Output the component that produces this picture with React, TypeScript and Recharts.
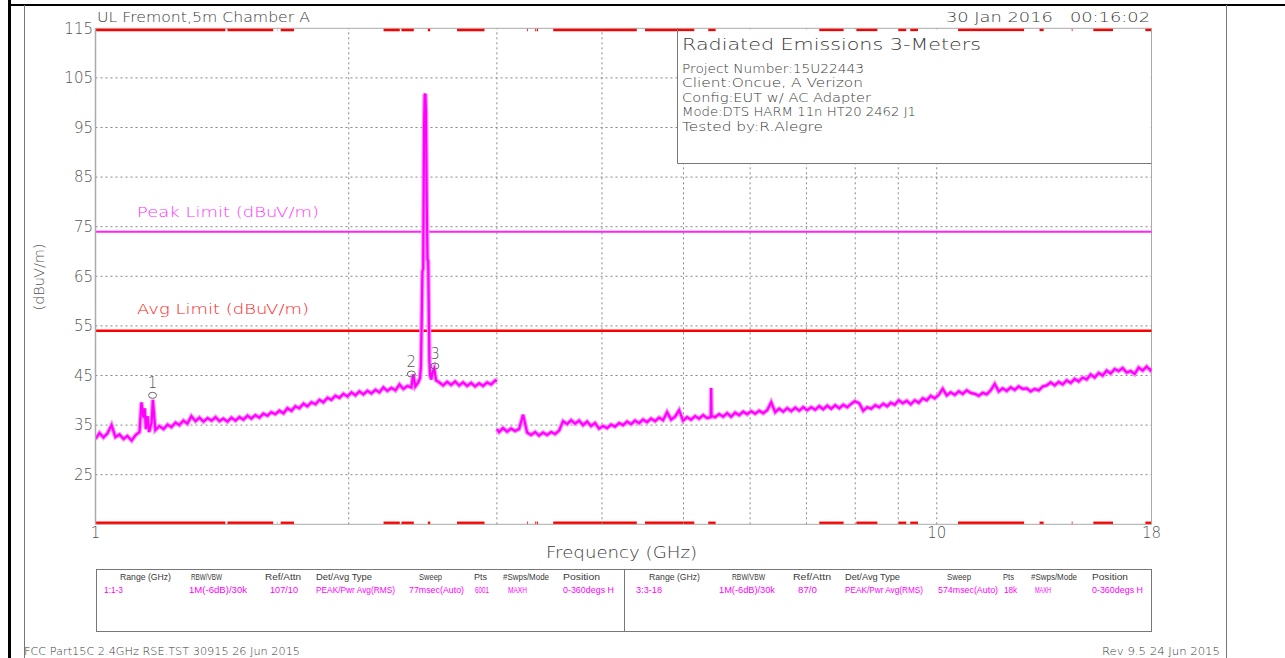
import React from 'react';
import {
  ComposedChart,
  Line,
  XAxis,
  YAxis,
  ReferenceLine,
  ReferenceArea,
  Scatter,
} from 'recharts';

// ---------- data ----------
const range1Freq = [
  1.000, 1.011, 1.022, 1.033, 1.045, 1.056, 1.068, 1.080, 1.091, 1.104, 1.116, 1.128,
  1.134, 1.140, 1.144, 1.148, 1.153, 1.158, 1.166, 1.170, 1.178,
  1.191, 1.205, 1.218, 1.231, 1.245, 1.258, 1.272, 1.286, 1.300, 1.315,
  1.329, 1.344, 1.359, 1.374, 1.389, 1.404, 1.419, 1.435, 1.451, 1.467,
  1.483, 1.499, 1.516, 1.532, 1.549, 1.566, 1.583, 1.601, 1.618, 1.636,
  1.654, 1.673, 1.691, 1.710, 1.728, 1.747, 1.767, 1.786, 1.806, 1.826,
  1.846, 1.866, 1.887, 1.907, 1.928, 1.950, 1.971, 1.993, 2.015, 2.037,
  2.059, 2.082, 2.105, 2.128, 2.152, 2.175, 2.199, 2.223, 2.248, 2.273,
  2.298, 2.323, 2.349, 2.374,
  2.386, 2.400,
  2.419, 2.431, 2.437, 2.443, 2.447, 2.452, 2.458, 2.462, 2.467, 2.471, 2.476, 2.481, 2.486, 2.490, 2.494, 2.499,
  2.507, 2.515, 2.527, 2.540, 2.562,
  2.590, 2.618, 2.647, 2.676, 2.706, 2.735, 2.765, 2.796, 2.826, 2.858, 2.889, 2.921, 2.953, 2.986,
  3.000,
];
const range1Level = [
  32.2, 33.4, 32.5, 33.3, 35.0, 32.6, 33.1, 32.2, 32.8, 31.9, 33.0, 33.6,
  39.6, 36.5, 38.4, 34.2, 36.8, 33.6, 35.5, 40.1, 34.0,
  34.8, 34.2, 35.1, 34.6, 35.5, 35.0, 35.9, 35.3, 36.8, 35.8,
  36.5, 35.7, 36.4, 35.9, 36.6, 35.8, 36.3, 35.7, 36.5, 35.9,
  36.6, 36.1, 36.9, 36.3, 37.0, 36.5, 37.3, 36.9, 37.6, 37.2,
  37.9, 37.4, 38.4, 37.9, 38.8, 38.4, 39.3, 38.8, 39.6, 39.2,
  40.1, 39.6, 40.5, 40.1, 40.9, 40.5, 41.3, 40.8, 41.6, 41.0,
  41.8, 41.2, 41.9, 41.4, 42.1, 41.6, 42.6, 41.9, 42.5, 42.0,
  43.2, 42.3, 42.9, 42.6,
  45.2, 42.8,
  43.6, 44.5, 47.0, 58.0, 66.0, 66.5, 95.0, 101.5, 101.8, 98.0, 80.0, 68.5, 68.0, 58.0, 48.0, 45.0,
  44.2, 45.6, 46.4, 44.0, 43.6,
  43.0, 43.7, 43.1, 43.8, 43.0, 43.6, 42.9, 43.5, 42.8, 43.4, 42.9, 43.6, 43.2, 44.0,
  43.8,
];

const range2Freq = [
  3.000, 3.018, 3.051, 3.085, 3.119, 3.153, 3.188, 3.223, 3.259, 3.294,
  3.331, 3.367, 3.404, 3.442, 3.480, 3.518, 3.557, 3.596, 3.636, 3.676,
  3.716, 3.757, 3.798, 3.840, 3.882, 3.925, 3.968, 4.012, 4.056, 4.100,
  4.146, 4.191, 4.238, 4.284, 4.331, 4.379, 4.427, 4.476, 4.525, 4.575,
  4.626, 4.677, 4.728, 4.780, 4.833, 4.886, 4.940, 4.994, 5.049, 5.105,
  5.161, 5.218, 5.276, 5.334, 5.388, 5.393, 5.398, 5.452, 5.512, 5.573, 5.634, 5.696,
  5.759, 5.823, 5.887, 5.952, 6.017, 6.084, 6.151, 6.218, 6.287, 6.356,
  6.426, 6.497, 6.569, 6.641, 6.714, 6.788, 6.863, 6.939, 7.015, 7.092,
  7.170, 7.249, 7.329, 7.410, 7.491, 7.574, 7.657, 7.742, 7.827, 7.913,
  7.991, 8.088, 8.177, 8.267, 8.358, 8.450, 8.543, 8.637, 8.732, 8.818,
  8.915, 9.013, 9.112, 9.212, 9.313, 9.416, 9.519, 9.624, 9.730, 9.837,
  9.945, 10.055, 10.165, 10.277, 10.390, 10.505, 10.620, 10.737, 10.855, 10.975,
  11.096, 11.218, 11.341, 11.466, 11.592, 11.720, 11.849, 11.979, 12.111, 12.244,
  12.379, 12.515, 12.653, 12.792, 12.933, 13.075, 13.219, 13.364, 13.511, 13.660,
  13.810, 13.962, 14.116, 14.271, 14.428, 14.587, 14.747, 14.910, 15.074, 15.240,
  15.407, 15.577, 15.748, 15.922, 16.097, 16.274, 16.453, 16.634, 16.817, 17.002,
  17.189, 17.378, 17.569, 17.763, 17.958, 18.000,
];
const range2Level = [
  34.2, 33.6, 34.4, 33.7, 34.3, 33.8, 34.2, 37.1, 33.5, 33.0,
  33.6, 32.9, 33.5, 33.0, 33.6, 33.2, 33.9, 35.8, 35.2, 36.0,
  35.3, 35.9, 35.0, 35.7, 34.8, 35.4, 34.3, 34.8, 34.4, 35.1,
  34.7, 35.4, 35.0, 35.7, 35.2, 35.9, 35.4, 36.1, 35.6, 36.3,
  35.8, 36.5, 36.0, 37.6, 36.1, 36.7, 38.0, 35.9, 36.6, 36.1,
  36.8, 36.3, 37.0, 36.4, 36.6, 42.5, 36.9, 36.6, 37.2, 36.7, 37.4, 36.7,
  37.5, 37.0, 37.7, 37.2, 37.8, 37.3, 37.9, 37.4, 38.0, 39.6,
  37.6, 38.3, 37.7, 38.4, 37.8, 38.5, 37.9, 38.6, 38.0, 38.6,
  38.1, 38.8, 38.2, 38.9, 38.3, 39.0, 38.4, 39.1, 38.6, 39.3,
  39.8, 39.4, 37.9, 38.6, 38.3, 39.0, 38.6, 39.3, 38.8, 39.5,
  39.1, 40.0, 39.4, 39.9, 39.2, 40.0, 39.5, 40.4, 40.0, 40.9,
  40.4, 41.1, 42.3, 41.0, 41.6, 41.1, 41.8, 41.3, 42.0, 41.5,
  41.3, 40.9, 41.5, 41.2, 42.0, 43.3, 41.8, 42.4, 41.9, 42.6,
  42.1, 42.8, 42.3, 42.4, 41.8, 42.3, 42.0, 42.8, 43.0, 43.6,
  43.0, 43.7, 43.2, 44.0, 43.5, 44.3, 43.8, 44.6, 44.2, 45.2,
  44.6, 45.5, 45.0, 46.0, 45.4, 46.3, 45.9, 46.5, 45.6, 45.9,
  45.3, 46.6, 46.0, 46.8, 46.0, 46.5,
];

const markerFreq = [1.169, 2.374, 2.532];
const markerLevel = [41.0, 45.3, 46.9];
const markerNames = ['1', '2', '3'];

const bandStart = [1.0, 1.435, 1.6455, 1.66, 2.2, 2.31, 2.4835, 2.69, 3.26, 3.332, 3.3458, 3.5, 4.5, 5.35, 7.25, 8.025, 9.0, 9.3, 10.6, 13.25, 14.47, 15.35, 17.7];
const bandEnd = [1.427, 1.6265, 1.6465, 1.722, 2.3, 2.39, 2.5, 2.9, 3.267, 3.339, 3.358, 4.4, 5.15, 5.46, 7.75, 8.5, 9.2, 9.5, 12.7, 13.4, 14.5, 16.2, 18.0];

const peakLimit = 74;
const avgLimit = 54;
const yTicks = [25, 35, 45, 55, 65, 75, 85, 95, 105, 115];
const yGrid = [25, 35, 45, 55, 65, 75, 85, 95, 105];
const xTicks = [1, 10, 18];
const xGrid = [2, 3, 4, 5, 6, 7, 8, 9, 10];

const headerLeft = 'UL Fremont,5m Chamber A';
const headerRight = '30 Jan 2016   00:16:02';
const infoTitle = 'Radiated Emissions 3-Meters';
const infoLines = [
  'Project Number:15U22443',
  'Client:Oncue, A Verizon',
  'Config:EUT w/ AC Adapter',
  'Mode:DTS HARM 11n HT20 2462 J1',
  'Tested by:R.Alegre',
];
const infoWidths = [182, 181, 189, 234, 141];

const tableHeaders = ['Range (GHz)', 'RBW/VBW', 'Ref/Attn', 'Det/Avg Type', 'Sweep', 'Pts', '#Swps/Mode', 'Position'];
const tableLeftHdrX = [120, 191, 265, 316, 419, 474, 503, 563];
const tableLeftHdrW = [51, 31, 36, 56, 23, 13, 46, 37];
const tableLeftVals = ['1:1-3', '1M(-6dB)/30k', '107/10', 'PEAK/Pwr Avg(RMS)', '77msec(Auto)', '6001', 'MAXH', '0-360degs H'];
const tableLeftValX = [104, 189, 270, 316, 409, 475, 508, 563];
const tableLeftValW = [19, 58, 28, 79, 55, 14, 19, 51];
const tableRightHdrX = [649, 732, 793, 845, 947, 1003, 1031, 1092];
const tableRightHdrW = [51, 33, 38, 55, 24, 11, 46, 36];
const tableRightVals = ['3:3-18', '1M(-6dB)/30k', '87/0', 'PEAK/Pwr Avg(RMS)', '574msec(Auto)', '18k', 'MAXH', '0-360degs H'];
const tableRightValX = [636, 719, 798, 845, 938, 1004, 1035, 1092];
const tableRightValW = [26, 56, 19, 78, 60, 13, 16, 51];

const footerLeft = 'FCC Part15C 2.4GHz RSE.TST 30915 26 Jun 2015';
const footerRight = 'Rev 9.5 24 Jun 2015';
const xTitle = 'Frequency (GHz)';
const yTitle = '(dBuV/m)';
const peakLabel = 'Peak Limit (dBuV/m)';
const avgLabel = 'Avg Limit (dBuV/m)';

// ---------- derived tables ----------
const range1Data = range1Freq.map((f, i) => ({ f, v: range1Level[i] }));
const range2Data = range2Freq.map((f, i) => ({ f, v: range2Level[i] }));
const markerData = markerFreq.map((f, i) => ({ f, v: markerLevel[i], name: markerNames[i] }));

const W = 1285;
const H = 658;
const FONT = "'DejaVu Sans', 'Liberation Sans', sans-serif";
const TABLE_FONT = "'Liberation Sans', Arial, sans-serif";
const MAGENTA = '#ff00ff';
const PALE = '#ff8cff';
const TXT = '#3a3a3a';

function MarkerShape(props: any) {
  const { cx, cy, payload } = props;
  if (cx == null || cy == null) return null;
  return (
    <g>
      <ellipse cx={cx} cy={cy} rx={4} ry={3} fill="none" stroke="#666" strokeWidth={1} />
      <text x={cx} y={cy - 7} textAnchor="middle" fontSize={15} fill="#555" fontFamily={FONT} fontWeight={200}>
        {payload.name}
      </text>
    </g>
  );
}

function LimitLabel(props: any) {
  const { viewBox, text, color, dy, len } = props;
  if (!viewBox) return null;
  return (
    <text
      x={viewBox.x + 41.5}
      y={viewBox.y + dy}
      fill={color}
      fontSize={14.5}
      fontFamily={FONT}
      fontWeight={200}
      textLength={len}
      lengthAdjust="spacingAndGlyphs"
    >
      {text}
    </text>
  );
}

function T(props: any) {
  const { x, y, w, size, fill, children, anchor, family } = props;
  return (
    <text
      x={x}
      y={y}
      fontSize={size}
      fill={fill || TXT}
      fontFamily={family || FONT}
      fontWeight={200}
      textAnchor={anchor || 'start'}
      textLength={w}
      lengthAdjust="spacingAndGlyphs"
      style={{ whiteSpace: 'pre' }}
    >
      {children}
    </text>
  );
}

export default function App() {
  return (
    <div style={{ position: 'absolute', left: 0, top: 0, width: W, height: H, background: '#fff' }}>
      <div style={{ position: 'absolute', left: 0, top: 0 }}>
        <ComposedChart
          width={W}
          height={H}
          margin={{ top: 28.3, left: 35.5, right: 133.5, bottom: 103.7 }}
        >
          <XAxis
            dataKey="f"
            type="number"
            scale="log"
            domain={[1, 18]}
            ticks={xTicks}
            interval={0}
            height={30}
            tickSize={0}
            tickMargin={3}
            axisLine={{ stroke: '#aaa', strokeWidth: 1 }}
            tick={{ fontSize: 15, fill: '#555', fontFamily: FONT, fontWeight: 200 }}
            allowDataOverflow
          />
          <YAxis
            type="number"
            domain={[15, 115]}
            ticks={yTicks}
            interval={0}
            width={60}
            tickSize={0}
            tickMargin={2.5}
            axisLine={{ stroke: '#aaa', strokeWidth: 1.5 }}
            tick={{ fontSize: 15, fill: '#555', fontFamily: FONT, fontWeight: 200 }}
            allowDataOverflow
          />
          {yGrid.map((v) => (
            <ReferenceLine key={'hy' + v} y={v} stroke="#888" strokeDasharray="2 3" strokeWidth={1} />
          ))}
          {xGrid.map((v) => (
            <ReferenceLine key={'vx' + v} x={v} stroke="#888" strokeDasharray="2 3" strokeWidth={1} />
          ))}
          <ReferenceLine y={115} stroke="#aaa" strokeWidth={1} />
          <ReferenceLine x={18} stroke="#aaa" strokeWidth={1} />
          <ReferenceLine
            y={peakLimit}
            stroke="#ff22ff"
            strokeWidth={2}
            label={<LimitLabel text={peakLabel} color="#ff33ff" dy={-15} len={182} />}
          />
          <ReferenceLine
            y={avgLimit}
            stroke="#ff0000"
            strokeWidth={2.5}
            label={<LimitLabel text={avgLabel} color="#ff2222" dy={-16.6} len={172} />}
          />
          {bandStart.map((s, i) => (
            <ReferenceArea
              key={'bt' + i}
              x1={s}
              x2={bandEnd[i]}
              y1={114.4}
              y2={115}
              fill="#ff0000"
              fillOpacity={1}
              stroke="none"
              ifOverflow="visible"
            />
          ))}
          {bandStart.map((s, i) => (
            <ReferenceArea
              key={'bb' + i}
              x1={s}
              x2={bandEnd[i]}
              y1={15}
              y2={15.55}
              fill="#ff0000"
              fillOpacity={1}
              stroke="none"
              ifOverflow="visible"
            />
          ))}
          <Line
            data={range1Data}
            dataKey="v"
            type="linear"
            stroke={PALE}
            strokeWidth={4.5}
            dot={false}
            activeDot={false}
            isAnimationActive={false}
          />
          <Line
            data={range2Data}
            dataKey="v"
            type="linear"
            stroke={PALE}
            strokeWidth={4.5}
            dot={false}
            activeDot={false}
            isAnimationActive={false}
          />
          <Line
            data={range1Data}
            dataKey="v"
            type="linear"
            stroke={MAGENTA}
            strokeWidth={2.2}
            dot={false}
            activeDot={false}
            isAnimationActive={false}
          />
          <Line
            data={range2Data}
            dataKey="v"
            type="linear"
            stroke={MAGENTA}
            strokeWidth={2.2}
            dot={false}
            activeDot={false}
            isAnimationActive={false}
          />
          <Scatter data={markerData} dataKey="v" shape={<MarkerShape />} isAnimationActive={false} />
        </ComposedChart>
      </div>
      <svg
        width={W}
        height={H}
        style={{ position: 'absolute', left: 0, top: 0, pointerEvents: 'none' }}
      >
        {/* page frame */}
        <line x1={9.5} y1={0} x2={9.5} y2={H} stroke="#000" strokeWidth={3} />
        <line x1={8} y1={5} x2={W} y2={5} stroke="#000" strokeWidth={2} />
        <line x1={24.5} y1={5} x2={24.5} y2={H} stroke="#777" strokeWidth={1} />
        <line x1={1226.5} y1={5} x2={1226.5} y2={H} stroke="#777" strokeWidth={1} />

        {/* header */}
        <T x={97} y={22} w={213} size={14}>{headerLeft}</T>
        <T x={946} y={22} w={204} size={14}>{headerRight}</T>

        {/* info box */}
        <rect x={678} y={31.5} width={472.5} height={131.5} fill="#fff" />
        <line x1={677.5} y1={28} x2={677.5} y2={163.5} stroke="#777" strokeWidth={1} />
        <line x1={677.5} y1={163.5} x2={1151.5} y2={163.5} stroke="#777" strokeWidth={1} />
        <T x={682} y={49.5} w={299} size={16.5}>{infoTitle}</T>
        {infoLines.map((s, i) => (
          <T key={'il' + i} x={682} y={73 + i * 14.4} w={infoWidths[i]} size={12.5}>{s}</T>
        ))}

        {/* axis titles */}
        <T x={621.5} y={558} w={151} size={16} anchor="middle">{xTitle}</T>
        <g transform="translate(44,277) rotate(-90)">
          <T x={0} y={0} w={67} size={13.5} anchor="middle" fill="#555">{yTitle}</T>
        </g>

        {/* settings table */}
        <rect x={96.5} y={569.5} width={1055} height={62} fill="none" stroke="#777" strokeWidth={1} />
        <line x1={624.5} y1={569.5} x2={624.5} y2={631.5} stroke="#777" strokeWidth={1} />
        {tableHeaders.map((s, i) => (
          <T key={'lh' + i} x={tableLeftHdrX[i]} y={580} w={tableLeftHdrW[i]} size={9} family={TABLE_FONT}>{s}</T>
        ))}
        {tableLeftVals.map((s, i) => (
          <T key={'lv' + i} x={tableLeftValX[i]} y={592.5} w={tableLeftValW[i]} size={9} fill={MAGENTA} family={TABLE_FONT}>{s}</T>
        ))}
        {tableHeaders.map((s, i) => (
          <T key={'rh' + i} x={tableRightHdrX[i]} y={580} w={tableRightHdrW[i]} size={9} family={TABLE_FONT}>{s}</T>
        ))}
        {tableRightVals.map((s, i) => (
          <T key={'rv' + i} x={tableRightValX[i]} y={592.5} w={tableRightValW[i]} size={9} fill={MAGENTA} family={TABLE_FONT}>{s}</T>
        ))}

        {/* footer */}
        <T x={24} y={655} w={276} size={11}>{footerLeft}</T>
        <T x={1102} y={655} w={118} size={11}>{footerRight}</T>
      </svg>
    </div>
  );
}
